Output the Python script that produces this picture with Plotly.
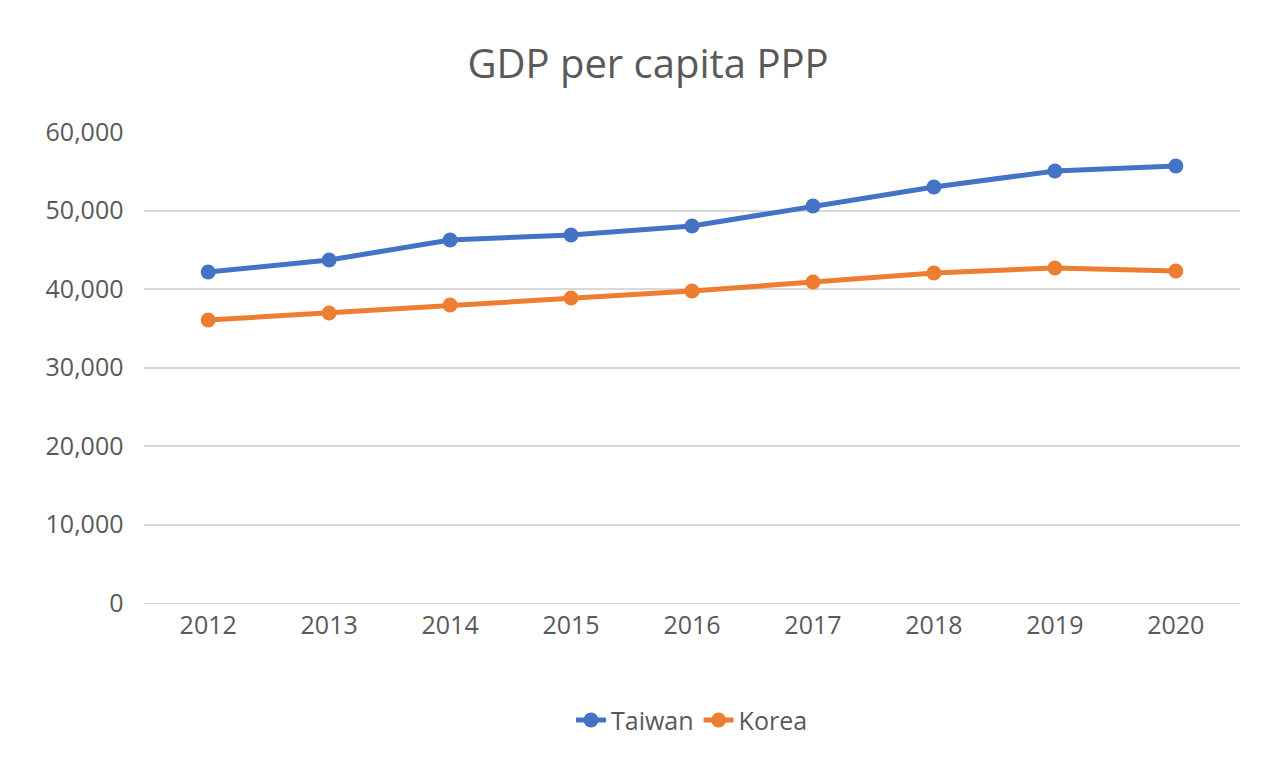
import plotly.graph_objects as go

years = ["2012","2013","2014","2015","2016","2017","2018","2019","2020"]
taiwan = [42170, 43690, 46240, 46880, 48030, 50570, 52990, 55030, 55670]
korea = [36050, 36940, 37960, 38850, 39750, 40890, 42040, 42680, 42290]

fig = go.Figure()
fig.add_trace(go.Scatter(x=years, y=taiwan, name="Taiwan", mode="lines+markers",
                         line=dict(color="#4472C4", width=5), marker=dict(size=15, color="#4472C4")))
fig.add_trace(go.Scatter(x=years, y=korea, name="Korea", mode="lines+markers",
                         line=dict(color="#ED7D31", width=5), marker=dict(size=15, color="#ED7D31")))
fig.update_layout(
    width=1280, height=768, paper_bgcolor="white", plot_bgcolor="white",
    font=dict(family="Open Sans", color="#595959", size=25),
    title=dict(text="GDP per capita PPP", x=0.5, y=0.945, xanchor="center", font=dict(size=40, color="#595959")),
    margin=dict(l=136, r=48, t=124, b=173),
    legend=dict(orientation="h", x=0.5, xanchor="center", y=-0.2, yanchor="top", font=dict(size=25)),
    showlegend=True,
)
fig.update_xaxes(type="category", showgrid=False, showline=True, linecolor="#D9D9D9", ticks="", ticklen=0)
fig.update_yaxes(range=[0, 60000], dtick=10000, tickformat=",", gridcolor="#D9D9D9", gridwidth=1.5,
                 zeroline=False, showline=False, ticksuffix="   ")
fig.write_html("out.html")
